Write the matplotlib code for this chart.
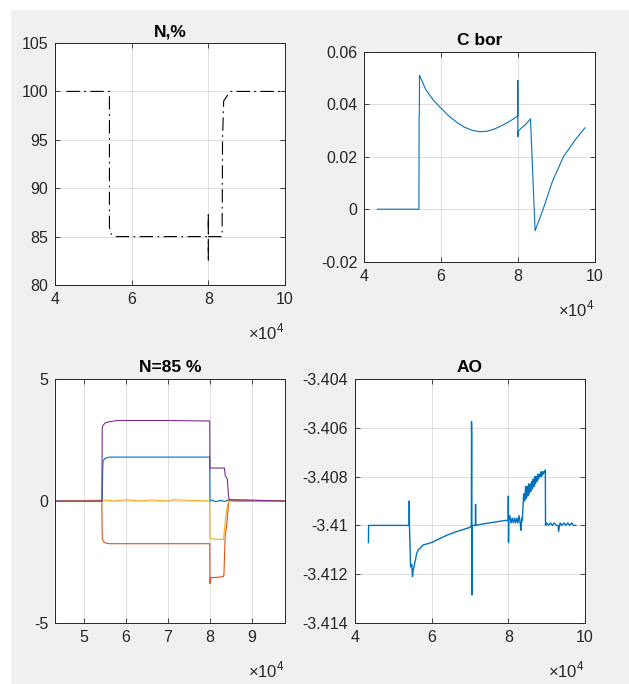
import matplotlib
matplotlib.use("Agg")
import matplotlib.pyplot as plt
from matplotlib.patches import Rectangle
from matplotlib.ticker import FuncFormatter
from matplotlib.transforms import offset_copy

plt.rcParams['font.family'] = ['Liberation Sans', 'DejaVu Sans']
plt.rcParams['axes.unicode_minus'] = False
plt.rcParams['mathtext.fontset'] = 'custom'
plt.rcParams['mathtext.rm'] = 'Liberation Sans'

# MATLAB default colours
BLUE = '#0072BD'
ORANGE = '#D95319'
YELLOW = '#EDB120'
PURPLE = '#7E2F8E'
DARK = (0.15, 0.15, 0.15)

# ---- N,% ----
n_x = [43000, 54200, 54200, 54300, 54600, 55200, 56000, 57000, 80000, 80000, 80000, 80000,
       83500, 83600, 83700, 84000, 85000, 85700, 86000, 100000]
n_y = [100, 100, 86.0, 85.7, 85.3, 85.1, 85.0, 85.0, 85.0, 87.5, 82.4, 85.0,
       85.0, 85.3, 95.0, 99.0, 99.6, 100, 100, 100]

# ---- C bor ----
cb_x = [43400, 54200, 54250, 54300, 54350, 56000, 58000, 60000, 62000, 64000, 66000,
        68000, 70000, 72000, 74000, 76000, 78000, 80000, 80000, 80000, 80150, 81000,
        82000, 83300, 84500, 86600, 89000, 91900, 95000, 97500]
cb_y = [0.0, 0.0, 0.0355, 0.036, 0.051, 0.0455, 0.0415, 0.0384, 0.0355, 0.0332, 0.0313,
        0.0301, 0.0295, 0.0297, 0.0306, 0.0320, 0.0336, 0.0355, 0.049, 0.0276, 0.0298, 0.031,
        0.0322, 0.0344, -0.0082, 0.0, 0.0105, 0.020, 0.0265, 0.031]

# ---- N=85 % ----
blue_x = [43000, 54300, 54400, 54500, 55000, 56000, 80000, 80050, 80500, 81500, 82500,
          83500, 84500, 85500, 98000]
blue_y = [0, 0, 1.3, 1.65, 1.75, 1.8, 1.8, 0.0, 0.04, -0.03, 0.03, -0.02, 0.05, 0.0, 0]
orange_x = [43000, 54200, 54300, 54500, 55000, 56000, 80000, 80050, 80200, 83300, 83400,
            83700, 84000, 84300, 84600, 98000]
orange_y = [0, 0, -1.5, -1.65, -1.72, -1.75, -1.75, -3.38, -3.15, -3.1, -3.0,
            -1.4, -1.1, -0.5, 0.05, 0]
yellow_x = [43000, 55000, 57000, 60000, 63000, 66000, 70000, 71000, 80000, 80050,
            83300, 83500, 84000, 84500, 98000]
yellow_y = [0, 0.04, 0.0, 0.05, 0.0, 0.04, 0.0, 0.05, 0.0, -1.55,
            -1.58, -1.2, -0.4, 0.0, 0]
purple_x = [43000, 54200, 54300, 54500, 55000, 56000, 58000, 70000, 79000, 80000, 80050,
            83500, 83700, 84200, 84500, 84700, 98000]
purple_y = [0, 0, 3.0, 3.1, 3.2, 3.25, 3.3, 3.3, 3.28, 3.28, 1.35,
            1.35, 1.05, 0.9, 0.2, 0.05, 0]

# ---- AO ----
ao_x = [43500, 43550, 43600, 54100, 54150, 54200, 54500, 54800, 55000, 55200, 55400, 55600,
        55800, 56000, 56500, 57000, 57800, 59000, 60000, 62000, 64000, 66000, 68000, 69000,
        70000, 70350, 70400, 70450, 70500, 70550, 71400, 71450, 71500, 73000, 75000,
        77000, 79000, 79950, 80000, 80050, 80100, 80400, 80700, 81000, 81300, 81600,
        81900, 82200, 82500, 82800, 83100, 83300, 83500, 83650, 84000, 84300, 84500,
        84700, 84900, 85100, 85300, 85500, 85700, 85900, 86100, 86300, 86500, 86700,
        86900, 87100, 87300, 87500, 87700, 87900, 88100, 88300, 88500, 88700, 88900,
        89100, 89300, 89500, 89650, 89700, 90000, 90500, 91000, 91500, 92000, 92500,
        93000, 93100, 93500, 94000, 94500, 95000, 95500, 96000, 96500, 97000, 97600]
ao_y = [-3.4107, -3.4100, -3.4100, -3.4100, -3.4090, -3.4100, -3.4117, -3.4116, -3.4121,
        -3.4118, -3.4117, -3.4115, -3.4114, -3.4112, -3.4110, -3.41093, -3.4108, -3.41075,
        -3.4107, -3.41055, -3.4104, -3.41028, -3.41018, -3.41013, -3.41008, -3.4100, -3.40575,
        -3.4064, -3.41285, -3.4100, -3.4100, -3.40914, -3.4100, -3.40995, -3.4099,
        -3.40985, -3.4098, -3.4098, -3.4088, -3.4107, -3.4098, -3.4096, -3.4099, -3.4097,
        -3.4099, -3.4097, -3.4099, -3.4097, -3.4099, -3.4096, -3.4099, -3.4102, -3.4097,
        -3.4098, -3.4087, -3.4090, -3.4084, -3.4089, -3.4084, -3.4088, -3.4083, -3.4087,
        -3.4083, -3.4086, -3.4082, -3.4085, -3.4081, -3.4084, -3.4080, -3.4083, -3.4080,
        -3.4082, -3.4079, -3.4081, -3.4079, -3.4080, -3.4078, -3.4080, -3.4078, -3.4079,
        -3.4078, -3.4078, -3.40773, -3.4100, -3.4099, -3.4100, -3.4099, -3.4100, -3.4099,
        -3.4100, -3.4100, -3.41025, -3.4099, -3.4100, -3.4099, -3.4100, -3.4099, -3.4100,
        -3.4099, -3.4100, -3.4100]


def fmt_x(v, pos):
    return '%g' % round(v / 1e4, 6)


def fmt_y(v, pos):
    return '%g' % round(v, 6)


def setup(ax, title, xlim, xticks, ylim, yticks):
    ax.set_xlim(xlim)
    ax.set_ylim(ylim)
    ax.set_xticks(xticks)
    ax.set_yticks(yticks)
    ax.xaxis.set_major_formatter(FuncFormatter(fmt_x))
    ax.yaxis.set_major_formatter(FuncFormatter(fmt_y))
    ax.grid(True, color=DARK, alpha=0.15, linewidth=0.7)
    ax.set_axisbelow(True)
    ax.tick_params(direction='in', length=3.5, width=0.6, colors=DARK, labelsize=11.5,
                   top=True, right=True, pad=5)
    for s in ax.spines.values():
        s.set_color(DARK)
        s.set_linewidth(0.7)
    ax.set_title(title, fontsize=12.5, fontweight='bold', pad=5)
    tr = offset_copy(ax.transAxes, fig=fig, x=0, y=-47, units='dots')
    ax.text(1.0, 0.0, r'$\times10^{4}$', transform=tr, ha='right',
            va='center', fontsize=12, color=DARK)


fig = plt.figure(figsize=(6.29, 6.84), dpi=100)
fig.patch.set_facecolor('white')
fig.add_artist(Rectangle((11 / 629, 0), 1, 674 / 684, transform=fig.transFigure,
                         facecolor='#f0f0f0', edgecolor='none', zorder=-10))

W, H = 629, 684


def px_axes(l, t, r, b):
    return fig.add_axes([l / W, 1 - b / H, (r - l) / W, (b - t) / H])


ax1 = px_axes(55, 43, 285, 285)
ax2 = px_axes(364.5, 51.7, 594.5, 261.7)
ax3 = px_axes(55, 379, 285, 623)
ax4 = px_axes(355, 379, 585, 623)

ax1.plot(n_x, n_y, color='black', linewidth=0.8, linestyle=(0, (12, 4, 1.5, 4)))
setup(ax1, 'N,%', (40000, 100000), [40000, 60000, 80000, 100000], (80, 105),
      [80, 85, 90, 95, 100, 105])

ax2.plot(cb_x, cb_y, color=BLUE, linewidth=0.8)
setup(ax2, 'C bor', (40000, 100000), [40000, 60000, 80000, 100000], (-0.02, 0.06),
      [-0.02, 0, 0.02, 0.04, 0.06])

ax3.plot(blue_x, blue_y, color=BLUE, linewidth=0.8)
ax3.plot(orange_x, orange_y, color=ORANGE, linewidth=0.8)
ax3.plot(yellow_x, yellow_y, color=YELLOW, linewidth=0.8)
ax3.plot(purple_x, purple_y, color=PURPLE, linewidth=0.8)
setup(ax3, 'N=85 %', (43000, 98000), [50000, 60000, 70000, 80000, 90000], (-5, 5),
      [-5, 0, 5])

ax4.plot(ao_x, ao_y, color=BLUE, linewidth=1.0)
setup(ax4, 'AO', (40000, 100000), [40000, 60000, 80000, 100000], (-3.414, -3.404),
      [-3.414, -3.412, -3.41, -3.408, -3.406, -3.404])

fig.savefig('out.png', dpi=100)
